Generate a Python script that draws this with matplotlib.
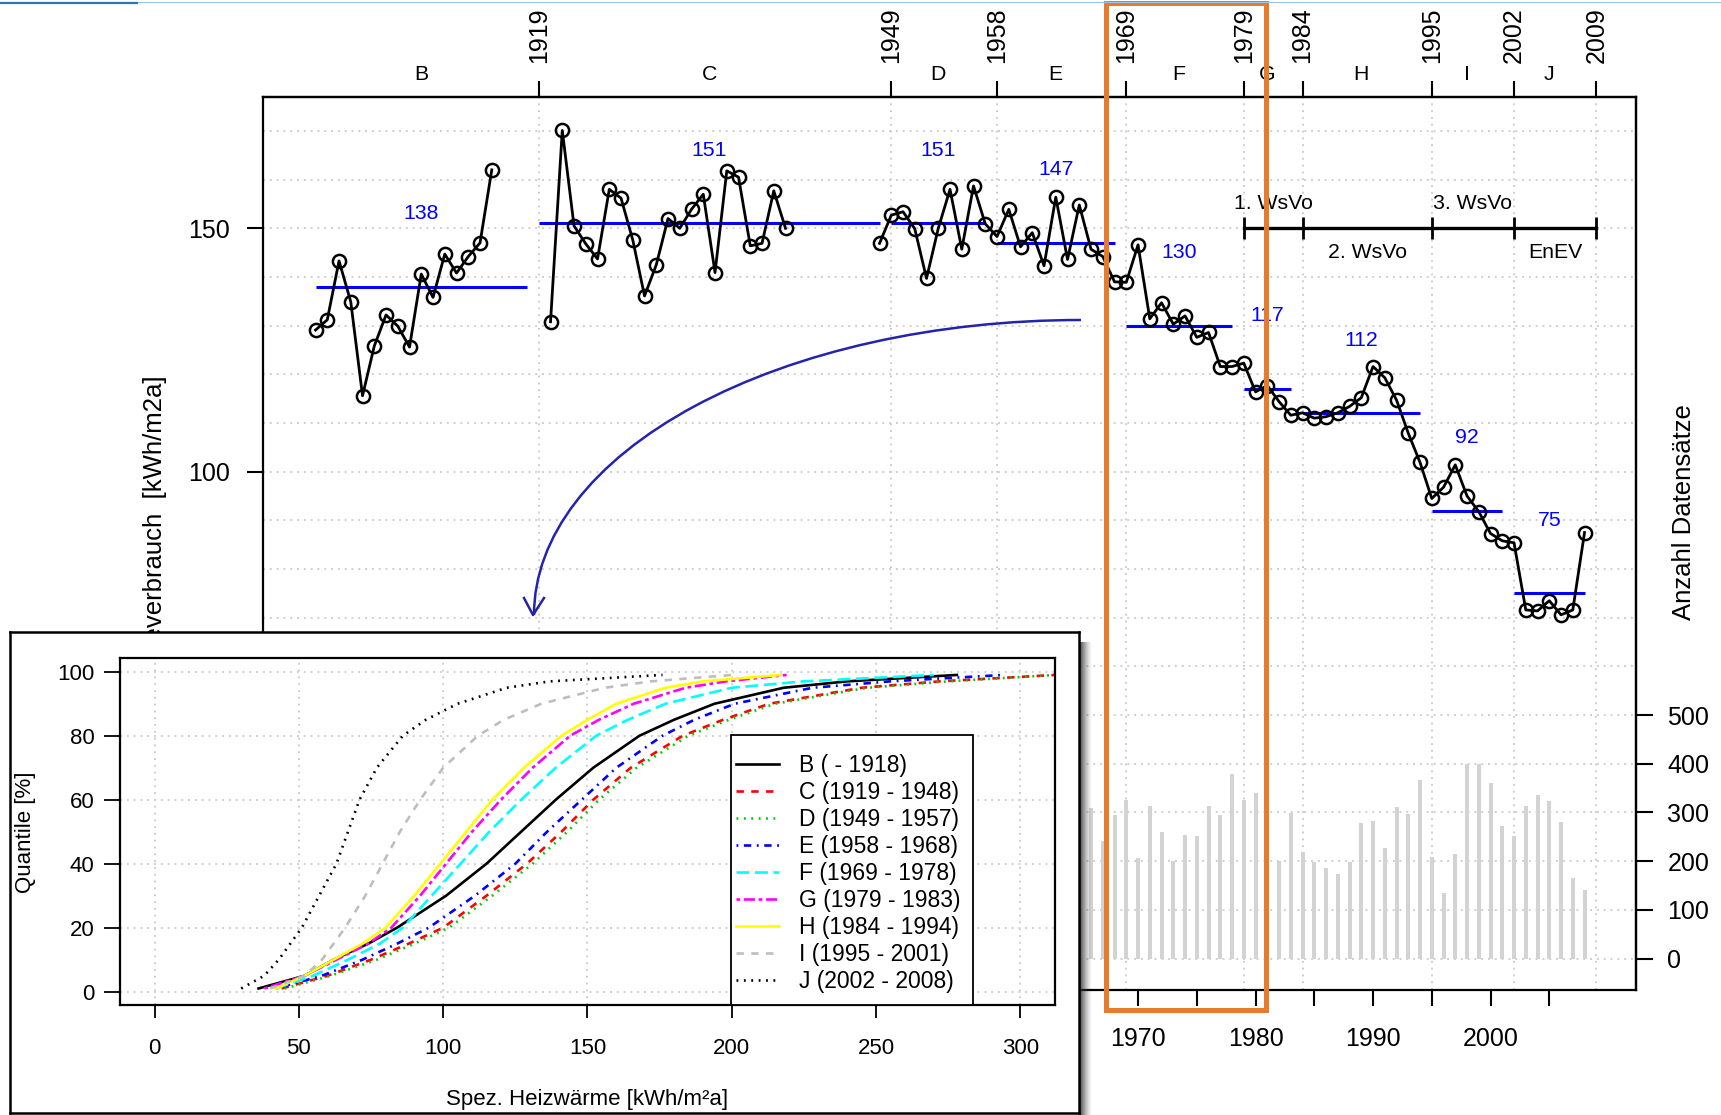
import matplotlib
matplotlib.use("Agg")
import matplotlib.pyplot as plt
from matplotlib.patches import Rectangle, Arc
from matplotlib.lines import Line2D
import numpy as np

plt.rcParams["font.family"] = ["Liberation Sans", "DejaVu Sans"]

W, H, DPI = 1721, 1115, 100

# ---- main series: specific heat consumption per construction year ----
years_1900 = list(range(1900, 1916))
heat_1900 = [129.1, 131.2, 143.3, 134.9, 115.6, 125.8, 132.2, 129.9,
             125.6, 140.6, 135.8, 144.7, 140.8, 144.2, 147.0, 162.0]
years_1920 = list(range(1920, 1941))
heat_1920 = [130.8, 170.1, 150.5, 146.8, 143.7, 158.0, 156.2, 147.6, 136.1,
             142.5, 152.0, 150.0, 153.9, 157.0, 140.9, 161.8, 160.5, 146.4,
             146.9, 157.7, 150.0]
years_1948 = list(range(1948, 2009))
heat_1948 = [146.9, 152.7, 153.4, 149.9, 139.7, 150.0, 158.0, 145.7, 158.7,
             150.9, 148.3, 153.9, 146.2, 149.1, 142.3, 156.4, 143.6, 154.8,
             145.7, 144.2, 139.0, 138.9, 146.6, 131.4, 134.7, 130.3, 132.0,
             127.6, 128.6, 121.6, 121.6, 122.3, 116.4, 117.7, 114.4, 111.6,
             112.1, 111.0, 111.3, 112.1, 113.4, 115.2, 121.6, 119.3, 114.7,
             107.9, 101.9, 94.5, 96.8, 101.4, 95.0, 91.8, 87.3, 85.8, 85.4,
             71.6, 71.4, 73.5, 70.6, 71.6, 87.5]

period_names = ["B", "C", "D", "E", "F", "G", "H", "I", "J"]
period_start = [1900, 1919, 1949, 1958, 1969, 1979, 1984, 1995, 2002]
period_end = [1918, 1948, 1957, 1968, 1978, 1983, 1994, 2001, 2008]
period_mean = [138, 151, 151, 147, 130, 117, 112, 92, 75]

# number of data records per year (right axis)
count_years = list(range(1966, 2009))
record_counts = [310, 242, 294, 326, 206, 313, 260, 201, 254, 252, 313, 294,
                 378, 326, 339, 300, 201, 298, 219, 199, 185, 174, 198, 278,
                 283, 228, 311, 297, 367, 208, 134, 215, 400, 400, 361, 272,
                 252, 313, 335, 324, 281, 166, 141]

law_bounds = [1979, 1984, 1995, 2002, 2009]
law_names = ["1. WsVo", "2. WsVo", "3. WsVo", "EnEV"]

# ---- inset: quantile curves of specific heat per period ----
quantile_pct = [1, 5, 10, 15, 20, 30, 40, 50, 60, 70, 80, 85, 90, 95, 97, 99]
q_B = [36, 52, 62, 74, 84, 101, 115, 127, 139, 152, 168, 180, 194, 218, 240, 278]
q_C = [44, 60, 75, 88, 100, 115, 129, 141, 152, 165, 183, 197, 213, 245, 272, 312]
q_D = [45, 61, 77, 90, 102, 117, 131, 143, 154, 167, 185, 199, 215, 247, 275, 312]
q_E = [42, 58, 72, 84, 95, 111, 125, 136, 148, 160, 176, 187, 201, 228, 255, 294]
q_F = [42, 55, 67, 78, 86, 96, 106, 116, 127, 139, 153, 164, 177, 200, 225, 270]
q_G = [38, 52, 63, 74, 82, 92, 101, 110, 120, 131, 144, 154, 166, 184, 198, 219]
q_H = [42, 52, 62, 72, 80, 90, 99, 108, 117, 128, 141, 150, 160, 177, 190, 217]
q_I = [40, 52, 58, 62, 66, 73, 79, 85, 92, 100, 112, 121, 134, 156, 172, 200]
q_J = [30, 38, 43, 47, 51, 57, 63, 67, 71, 77, 86, 94, 105, 122, 137, 176]
inset_labels = ["B ( - 1918)", "C (1919 - 1948)", "D (1949 - 1957)",
                "E (1958 - 1968)", "F (1969 - 1978)", "G (1979 - 1983)",
                "H (1984 - 1994)", "I (1995 - 2001)", "J (2002 - 2008)"]


def frac(x0, y0, x1, y1):
    """pixel box (top-left origin) -> figure fraction rect"""
    return [x0 / W, 1 - y1 / H, (x1 - x0) / W, (y1 - y0) / H]


def inch(x, y):
    return x / DPI, (H - y) / DPI


fig = plt.figure(figsize=(W / DPI, H / DPI), dpi=DPI)
fig.patch.set_facecolor("white")
px = fig.dpi_scale_trans
grid_kw = dict(color="#cfcfcf", lw=1.4, ls=(0, (1, 2.5)), zorder=0)

# ---------------- main axes ----------------
ax = fig.add_axes(frac(263, 97, 1636, 990))
ax.set_xlim(1895.53, 2012.38)
ax.set_ylim(-6.47, 176.97)
for s in ax.spines.values():
    s.set_linewidth(1.6)

for v in range(0, 171, 10):
    ax.axhline(v, **grid_kw)
for b in period_start[1:] + [period_end[-1] + 1]:
    ax.axvline(b, **grid_kw)

ax.vlines(count_years, 0, np.array(record_counts) / 10, color="#d3d3d3",
          lw=2.9, zorder=1)

for yrs, vals in [(years_1900, heat_1900), (years_1920, heat_1920),
                  (years_1948, heat_1948)]:
    ax.plot(yrs, vals, color="black", lw=2.0, marker="o", ms=9.5, mfc="none",
            mew=1.8, zorder=4)

for name, a, b, m in zip(period_names, period_start, period_end, period_mean):
    ax.hlines(m, a, b, color="blue", lw=2.2, zorder=3)
    ax.text((a + b) / 2, m + 15, str(m), color="blue", ha="center",
            va="center", fontsize=15.3, zorder=5)
    ax.text((a + b) / 2, 1 + 23 / 893, name, ha="center", va="center",
            fontsize=15.3, transform=ax.get_xaxis_transform(), clip_on=False)

# regulations bar
ax.plot([law_bounds[0], law_bounds[-1]], [150, 150], color="black", lw=2.4,
        zorder=5)
ax.vlines(law_bounds, 147.7, 152.3, color="black", lw=2.0, zorder=5)
for i, name in enumerate(law_names):
    mid = (law_bounds[i] + law_bounds[i + 1]) / 2
    ax.text(mid, 155 if i % 2 == 0 else 145, name, ha="center", va="center",
            fontsize=15.3, zorder=5)

# ticks left of 1966 sit under the inset, so only label the visible decades
bottom_ticks = list(range(1900, 2006, 5))
ax.set_xticks(bottom_ticks)
ax.set_xticklabels([str(y) if (y % 10 == 0 and y >= 1970) else ""
                    for y in bottom_ticks])
ax.set_yticks([50, 100, 150])
ax.set_yticklabels(["", "100", "150"])
ax.tick_params(axis="both", direction="out", length=11.5, width=1.5,
               labelsize=18)
ax.tick_params(axis="x", pad=15.5)
ax.tick_params(axis="y", pad=12)

top = ax.secondary_xaxis("top")
top_ticks = period_start[1:] + [period_end[-1] + 1]
top.set_xticks(top_ticks)
top.set_xticklabels([str(t) for t in top_ticks], rotation=90)
top.tick_params(direction="out", length=11.5, width=1.5, labelsize=18, pad=13)
top.spines["top"].set_linewidth(1.6)

right = ax.secondary_yaxis("right", functions=(lambda v: v * 10,
                                               lambda c: c / 10))
right.set_yticks(range(0, 501, 100))
right.tick_params(direction="out", length=12, width=1.5, labelsize=18,
                  pad=10.5)
right.spines["right"].set_linewidth(1.6)

ax.text(*inch(155, 375), "Heizwärmeverbrauch  [kWh/m2a]", transform=px,
        rotation=90, ha="center", va="top", fontsize=18.5, clip_on=False)
ax.text(*inch(1684, 512), "Anzahl Datensätze", transform=px, rotation=90,
        ha="center", va="center", fontsize=18.5, clip_on=False)

# curved arrow pointing to the inset
cx, cy = inch(1081, 615)
ax.add_patch(Arc((cx, cy), 2 * 5.47, 2 * 2.95, theta1=90, theta2=180,
                 transform=px, color="#2323ad", lw=1.8, clip_on=False,
                 zorder=6))
ax.add_line(Line2D([inch(524, 598)[0], inch(533, 615)[0], inch(544, 598)[0]],
                   [inch(524, 598)[1], inch(533, 615)[1], inch(544, 598)[1]],
                   transform=px, color="#2323ad", lw=1.8, clip_on=False,
                   zorder=6))

# drop shadow of the inset box
for i in range(12):
    x = 1079.5 + i
    ax.add_line(Line2D([inch(x, 0)[0]] * 2, [inch(0, 642)[1], inch(0, 1115)[1]],
                       transform=px, color="#303030",
                       alpha=0.8 * (1 - i / 12) ** 1.5, lw=0.75,
                       clip_on=False, zorder=8))

# orange highlight box
x0, y0 = inch(1105.5, 1010)
ax.add_patch(Rectangle((x0, y0), (1266.4 - 1105.5) / DPI, (1010 - 3) / DPI,
                       transform=px, fill=False, ec="#e77b2a", lw=3.6,
                       clip_on=False, zorder=10))

# thin title bar artefact at the very top
fig.add_artist(Line2D([0, W / DPI], [inch(0, 2)[1]] * 2, transform=px,
                      color="#9dc3e6", lw=0.8))
fig.add_artist(Line2D([0, 137 / DPI], [inch(0, 3)[1]] * 2, transform=px,
                      color="#2e75b6", lw=1.6))

# ---------------- inset ----------------
box = fig.add_axes(frac(10, 632, 1079, 1113), zorder=5)
box.set_xticks([])
box.set_yticks([])
box.set_facecolor("white")
for s in box.spines.values():
    s.set_linewidth(1.8)

iax = fig.add_axes(frac(120, 658, 1055, 1005), zorder=6)
iax.set_facecolor("white")
iax.set_xlim(-12, 312)
iax.set_ylim(-4.16, 104.3)
for s in iax.spines.values():
    s.set_linewidth(1.6)
for v in range(0, 301, 50):
    iax.axvline(v, **grid_kw)
for v in range(0, 101, 20):
    iax.axhline(v, **grid_kw)

styles = [("black", "-"), ("red", (0, (2.8, 2.8))),
          ("#00cd00", (0, (0.7, 2.1))), ("blue", (0, (0.7, 2.1, 2.8, 2.1))),
          ("cyan", (0, (4.9, 2.1))), ("magenta", (0, (1.4, 1.4, 4.2, 1.4))),
          ("yellow", "-"), ("#bebebe", (0, (2.8, 2.8))),
          ("black", (0, (0.7, 2.1)))]
series = [q_B, q_C, q_D, q_E, q_F, q_G, q_H, q_I, q_J]
handles = []
for vals, (col, ls), lab in zip(series, styles, inset_labels):
    h, = iax.plot(vals, quantile_pct, color=col, ls=ls, lw=1.9, label=lab,
                  zorder=2)
    handles.append(h)

iax.set_xticks(range(0, 301, 50))
iax.set_yticks(range(0, 101, 20))
iax.tick_params(axis="both", direction="out", width=1.3, labelsize=16)
iax.tick_params(axis="x", length=9.4, pad=14)
iax.tick_params(axis="y", length=11.5, pad=7)

iax.add_patch(Rectangle((0.653, 0), 0.912 - 0.653, 0.778,
                        transform=iax.transAxes, fc="white", ec="black",
                        lw=1.3, zorder=4))
iax.legend(handles=handles, loc="upper left", bbox_to_anchor=(0.6583, 0.722),
           frameon=False, borderaxespad=0, borderpad=0, fontsize=16.5,
           handlelength=1.9, handletextpad=0.85, labelspacing=0.17)

iax.text(*inch(587, 1100), "Spez. Heizwärme [kWh/m²a]", transform=px,
         ha="center", va="center", fontsize=16, clip_on=False)
iax.text(*inch(26, 832), "Quantile [%]", transform=px, rotation=90,
         ha="center", va="center", fontsize=16, clip_on=False)

fig.savefig("out.png", dpi=DPI)
